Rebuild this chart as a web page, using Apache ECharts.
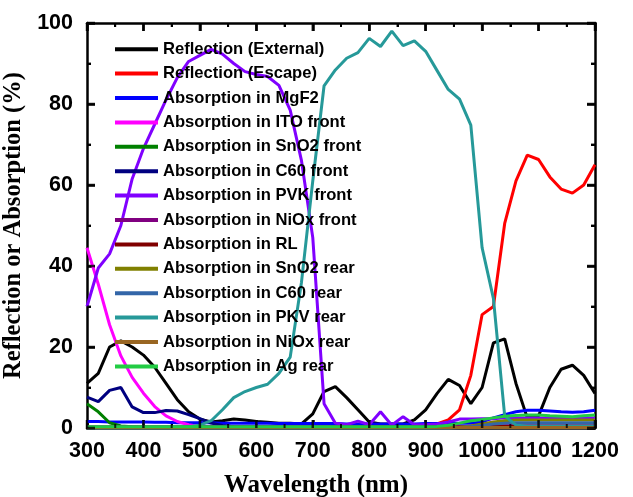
<!DOCTYPE html>
<html>
<head>
<meta charset="utf-8">
<script src="https://cdn.jsdelivr.net/npm/echarts@6/dist/echarts.min.js"></script>
<style>
html,body{margin:0;padding:0;background:#fff;}
#c{width:633px;height:497px;}
</style>
</head>
<body>
<div id="c"></div>
<script>
// Wavelength (nm), 20 nm steps
const wavelengths = [300,320,340,360,380,400,420,440,460,480,500,520,540,560,580,600,620,640,660,680,700,720,740,760,780,800,820,840,860,880,900,920,940,960,980,1000,1020,1040,1060,1080,1100,1120,1140,1160,1180,1200];

const reflExternal = [11,13.5,20,21.5,20,18,15,11,7,4,2.2,1.5,1.8,2.2,2,1.6,1.4,1.2,1.2,1,3.5,9,10.2,7.5,4.5,1.5,1,1,1,2,4.5,8.5,12,10.5,6,10,21,22,11,2.5,3,10,14.5,15.5,13,8.5];
const reflEscape = [0.1,0.1,0.1,0.1,0.1,0.1,0.1,0.1,0.1,0.1,0.1,0.1,0.1,0.1,0.1,0.1,0.1,0.1,0.1,0.1,0.1,0.1,0.1,0.1,0.1,0.1,0.1,0.1,0.2,0.3,0.5,1,2,4.5,13,28,30,50.5,61,67.4,66.3,62,59,58,60,65];
const absMgF2 = [1.6,1.6,1.5,1.5,1.5,1.5,1.4,1.4,1.3,1.3,1.3,1.3,1.2,1.2,1.2,1.2,1.2,1.1,1.1,1.1,1.1,1.1,1.1,1,1,1,1,1,1,1,1.1,1.1,1.1,1.2,1.2,1.5,2.5,3.3,4,4.4,4.4,4.2,4,3.9,4,4.4];
const absITOfront = [44.5,35.5,25.5,17.8,12.5,8.6,5.3,3,1.6,0.8,0.4,0.3,0.3,0.3,0.3,0.3,0.3,0.3,0.3,0.3,0.3,0.3,0.3,0.3,0.3,0.3,0.3,0.3,0.3,0.3,0.3,0.3,0.3,0.4,0.4,0.5,0.5,0.6,0.6,0.6,0.6,0.6,0.6,0.6,0.6,0.6];
const absSnO2front = [6,4,1.3,0.5,0.3,0.2,0.2,0.2,0.2,0.2,0.2,0.2,0.2,0.2,0.2,0.2,0.2,0.2,0.2,0.2,0.2,0.2,0.2,0.2,0.2,0.2,0.2,0.2,0.2,0.2,0.2,0.2,0.2,0.2,0.2,0.2,0.2,0.2,0.2,0.2,0.2,0.2,0.2,0.2,0.2,0.2];
const absC60front = [7.6,6.5,9.3,10,5.2,3.8,3.8,4.3,4.2,3.3,2.3,1.2,0.6,0.3,0.2,0.2,0.2,0.2,0.2,0.2,0.2,0.2,0.2,0.2,0.2,0.2,0.2,0.2,0.2,0.2,0.2,0.2,0.2,0.2,0.2,0.2,0.2,0.2,0.2,0.2,0.2,0.2,0.2,0.2,0.2,0.2];
const absPVKfront = [30,39.5,43,50,61.5,69,75,81,86.5,90.5,92,93.5,92.3,90,88,87.3,86.8,84.6,78.5,66,47,6,1.2,0.8,1.7,0.8,4,0.7,2.8,0.8,0.8,1,1.5,2.2,2.2,2.3,2.3,2.5,2.5,2.5,2.5,2.5,2.5,2.5,2.5,2.5];
const absNiOxfront = [0.3,0.3,0.3,0.3,0.3,0.3,0.3,0.3,0.3,0.3,0.3,0.3,0.3,0.3,0.3,0.3,0.3,0.3,0.3,0.3,0.3,0.3,0.3,0.3,0.3,0.3,0.3,0.3,0.3,0.3,0.3,0.3,0.3,0.3,0.3,0.3,0.3,0.3,0.3,0.3,0.3,0.3,0.3,0.3,0.3,0.3];
const absRL = [0.1,0.1,0.1,0.1,0.1,0.1,0.1,0.1,0.1,0.1,0.1,0.1,0.1,0.1,0.1,0.1,0.1,0.1,0.1,0.1,0.1,0.1,0.1,0.1,0.1,0.1,0.1,0.1,0.1,0.1,0.1,0.1,0.1,0.2,0.3,0.4,0.5,0.5,0.5,0.5,0.5,0.5,0.5,0.5,0.5,0.5];
const absSnO2rear = [0,0,0,0,0,0,0,0,0,0,0,0,0,0,0,0,0,0,0,0,0,0,0,0,0,0,0,0,0,0,0,0,0,0.2,0.5,1,1.5,1.8,2,2,2,2,2,2,2,2];
const absC60rear = [0,0,0,0,0,0,0,0,0,0,0,0,0,0,0,0,0,0,0,0,0,0,0,0,0,0,0,0,0,0,0,0,0,0.1,0.3,0.6,1,1.2,1.3,1.3,1.3,1.3,1.3,1.3,1.3,1.3];
const absPKVrear = [0.1,0.1,0.1,0.1,0.1,0.1,0.1,0.1,0.1,0.3,0.7,1.8,4.5,7.5,9,10,10.8,13.5,17.5,36,61,84.5,88.4,91.3,92.7,96.2,94.2,98,94.4,95.6,93,88.3,83.6,81.2,74.8,44.5,32,3,0.7,0.5,0.5,0.5,0.5,0.5,0.5,0.5];
const absNiOxrear = [0.1,0.1,0.1,0.1,0.1,0.1,0.1,0.1,0.1,0.1,0.1,0.1,0.1,0.1,0.1,0.1,0.1,0.1,0.1,0.1,0.1,0.1,0.1,0.1,0.1,0.1,0.1,0.1,0.1,0.1,0.1,0.1,0.1,0.1,0.1,0.1,0.1,0.1,0.1,0.1,0.1,0.1,0.1,0.1,0.1,0.1];
const absAgrear = [0.3,0.3,0.3,0.3,0.3,0.3,0.3,0.3,0.3,0.3,0.3,0.3,0.3,0.3,0.3,0.3,0.3,0.3,0.3,0.3,0.3,0.3,0.3,0.3,0.3,0.3,0.3,0.3,0.3,0.3,0.3,0.4,0.7,1.2,1.8,2.1,2.5,2.9,3.1,3.2,3.2,3,2.9,2.8,3,3.2];

// Tick positions (axis values)
const xMajorTicks = [300,400,500,600,700,800,900,1000,1100,1200];
const xMinorTicks = [350,450,550,650,750,850,950,1050,1150];
const yMajorTicks = [0,20,40,60,80,100];
const yMinorTicks = [10,30,50,70,90];

const seriesNames = ['Reflection (External)','Reflection (Escape)','Absorption in MgF2','Absorption in ITO front','Absorption in SnO2 front','Absorption in C60 front','Absorption in PVK front','Absorption in NiOx front','Absorption in RL','Absorption in SnO2 rear','Absorption in C60 rear','Absorption in PKV rear','Absorption in NiOx rear','Absorption in Ag rear'];
const seriesData = [reflExternal,reflEscape,absMgF2,absITOfront,absSnO2front,absC60front,absPVKfront,absNiOxfront,absRL,absSnO2rear,absC60rear,absPKVrear,absNiOxrear,absAgrear];
const seriesColors = ['#000000','#ff0000','#0000ff','#ff00ff','#008000','#000080','#8000ff','#800080','#800000','#808000','#3366a8','#269999','#996622','#22cc44'];

const sansFont = 'Liberation Sans, Arial, sans-serif';
const serifFont = 'Liberation Serif, Times New Roman, serif';
const X_MIN = 300, X_MAX = 1200, Y_MIN = 0, Y_MAX = 100;

const chart = echarts.init(document.getElementById('c'));

function axisBase(extra){
  return Object.assign({
    axisLine:{show:true,onZero:false,lineStyle:{color:'#000',width:2.5}},
    axisTick:{show:true,inside:true,length:8,lineStyle:{color:'#000',width:2.5}},
    minorTick:{show:true,splitNumber:2,length:4,lineStyle:{color:'#000',width:2}},
    splitLine:{show:false},
    minorSplitLine:{show:false}
  }, extra);
}

// Inward tick marks as small rect symbols placed through the axis scales
function tickSeries(points, size, offset){
  return {
    type:'scatter', silent:true, clip:false, z:5,
    xAxisIndex:0, yAxisIndex:0,
    symbol:'rect', symbolSize:size, symbolOffset:offset,
    itemStyle:{color:'#000'},
    data:points
  };
}
const L = 8, M = 4, W = 2.5;
const tickSeriesList = [
  tickSeries(xMajorTicks.map(x=>[x,Y_MIN]), [W,L], [0,-L/2]),
  tickSeries(xMinorTicks.map(x=>[x,Y_MIN]), [2,M], [0,-M/2]),
  tickSeries(xMajorTicks.map(x=>[x,Y_MAX]), [W,L], [0,L/2]),
  tickSeries(xMinorTicks.map(x=>[x,Y_MAX]), [2,M], [0,M/2]),
  tickSeries(yMajorTicks.map(y=>[X_MIN,y]), [L,W], [L/2,0]),
  tickSeries(yMinorTicks.map(y=>[X_MIN,y]), [M,2], [M/2,0]),
  tickSeries(yMajorTicks.map(y=>[X_MAX,y]), [L,W], [-L/2,0]),
  tickSeries(yMinorTicks.map(y=>[X_MAX,y]), [M,2], [-M/2,0])
];

const option = {
  animation:false,
  backgroundColor:'#ffffff',
  grid:{left:87,top:23,width:508,height:405,outerBoundsMode:'none'},
  legend:{
    orient:'vertical',
    left:115, top:37,
    padding:0,
    itemGap:0,
    itemWidth:43, itemHeight:4,
    icon:'rect',
    textStyle:{fontFamily:sansFont,fontWeight:'bold',fontSize:16.6,color:'#000',lineHeight:24.4},
    data:seriesNames
  },
  xAxis:[
    axisBase({type:'value',min:X_MIN,max:X_MAX,interval:100,
      name:'Wavelength (nm)',nameLocation:'middle',nameGap:45,
      nameTextStyle:{fontFamily:serifFont,fontWeight:'bold',fontSize:25,color:'#000',padding:[0,50,0,0]},
      axisLabel:{show:true,margin:12,fontFamily:sansFont,fontWeight:'bold',fontSize:21.5,color:'#000',formatter:(v)=>String(v)}}),
    axisBase({type:'value',position:'top',min:X_MIN,max:X_MAX,interval:100,axisLabel:{show:false}})
  ],
  yAxis:[
    axisBase({type:'value',min:Y_MIN,max:Y_MAX,interval:20,
      name:'Reflection or Absorption (%)',nameLocation:'middle',nameGap:42,
      nameTextStyle:{fontFamily:serifFont,fontWeight:'bold',fontSize:24.5,color:'#000'},
      axisLabel:{show:true,margin:14,fontFamily:sansFont,fontWeight:'bold',fontSize:21.5,color:'#000',formatter:(v)=>String(v)}}),
    axisBase({type:'value',position:'right',min:Y_MIN,max:Y_MAX,interval:20,axisLabel:{show:false}})
  ],
  series: seriesNames.map((name,i)=>({
    name:name,
    type:'line',
    xAxisIndex:0,yAxisIndex:0,
    showSymbol:false,symbol:'none',
    clip:false,
    z:3,
    color:seriesColors[i],
    lineStyle:{width:3,color:seriesColors[i]},
    data: wavelengths.map((w,j)=>[w,seriesData[i][j]])
  })).concat(tickSeriesList)
};
chart.setOption(option);
</script>
</body>
</html>
